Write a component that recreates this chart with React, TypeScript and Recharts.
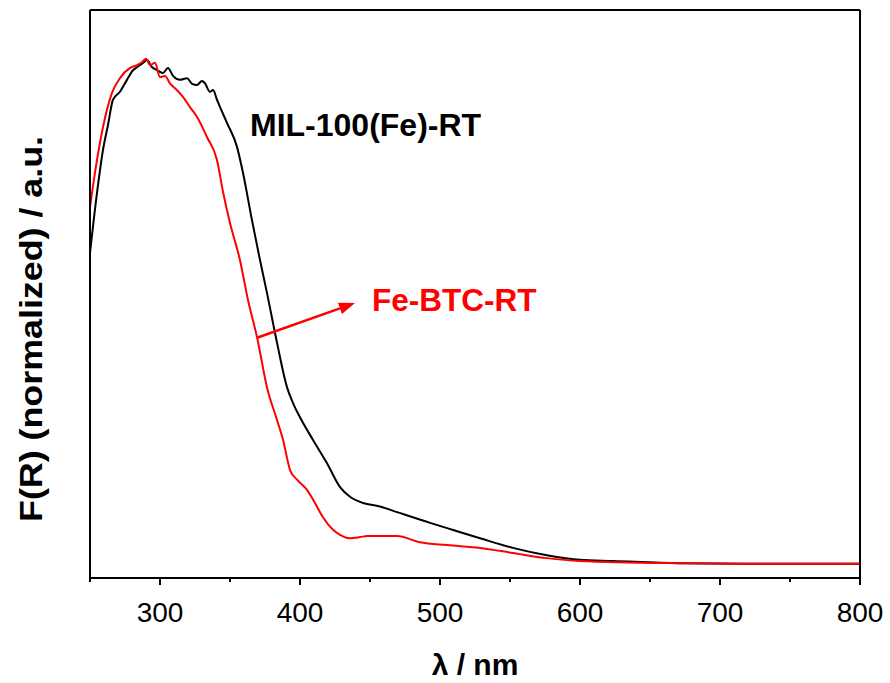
import { LineChart, Line, XAxis, YAxis, ReferenceLine } from 'recharts';

// MIL-100(Fe)-RT (black)
const milWavelength = [250, 255, 259.3, 262.9, 266.4, 271.4, 276.4, 280.7, 284, 287.9, 290.7, 294, 297.9, 302.1, 305.7, 309.3, 314.3, 319.3, 322.9, 326.4, 330, 332.1, 335.7, 337.9, 340.7, 342.9, 347.9, 355, 359.3, 365.7, 371.4, 376.4, 383.6, 390.7, 395, 400, 409.3, 419.3, 428.6, 435.7, 445, 457, 469.3, 492.9, 510, 528.6, 552.1, 576.4, 600, 623.6, 671.4, 730, 800];
const milIntensity = [57.2, 67.8, 75.4, 79.8, 84.2, 85.6, 87.7, 89.4, 90.0, 90.7, 91.2, 90.0, 89.4, 88.9, 89.8, 88.4, 87.7, 88.0, 87.0, 86.8, 87.5, 87.1, 85.6, 85.9, 84.2, 82.9, 80.1, 75.9, 71.3, 63.0, 56.0, 50.2, 41.4, 33.6, 30.8, 28.3, 24.3, 20.2, 16.0, 14.3, 13.2, 12.6, 11.6, 9.7, 8.4, 7.0, 5.3, 4.0, 3.2, 3.0, 2.6, 2.5, 2.5];

// Fe-BTC-RT (red)
const btcWavelength = [250, 255, 259.3, 265.7, 271.4, 278.6, 283.6, 287.1, 290, 292.9, 296.4, 300, 303.6, 307.1, 312.1, 316.4, 321.4, 326.4, 333.6, 340.7, 345, 350, 357.1, 362.9, 369.3, 376.4, 383.6, 387.9, 392.9, 397.9, 405, 410.7, 416.4, 423.6, 428.6, 435.7, 442.9, 447.9, 469.3, 485.7, 505, 528.6, 552.1, 576.4, 600, 671.4, 730, 800];
const btcIntensity = [65.3, 73.6, 79.4, 85.4, 88.0, 89.8, 90.3, 90.8, 91.4, 90.3, 90.7, 88.2, 88.4, 87.1, 85.9, 84.7, 82.9, 81.2, 77.6, 73.6, 68.0, 62.5, 56.0, 48.9, 42.4, 33.6, 27.8, 24.3, 19.0, 17.3, 15.5, 13.2, 10.7, 8.5, 7.6, 7.0, 7.2, 7.4, 7.4, 6.3, 5.8, 5.3, 4.4, 3.5, 3.0, 2.6, 2.5, 2.5];

const xTicks = [250, 300, 350, 400, 450, 500, 550, 600, 650, 700, 750, 800];

const milData = milWavelength.map((x, i) => ({ x, y: milIntensity[i] }));
const btcData = btcWavelength.map((x, i) => ({ x, y: btcIntensity[i] }));

const FONT = 'Arial, "Liberation Sans", sans-serif';

function BottomTick({ x, y, payload }: { x: number; y: number; payload: { value: number } }) {
  const major = payload.value % 100 === 0;
  return (
    <g>
      <line x1={x} y1={y} x2={x} y2={y + (major ? 7 : 4)} stroke="#000" strokeWidth={2} />
      {major && (
        <text x={x} y={y + 44} textAnchor="middle" fontSize={28} fontFamily={FONT} fill="#000">
          {payload.value}
        </text>
      )}
    </g>
  );
}

function TopTick({ x, y, payload }: { x: number; y: number; payload: { value: number } }) {
  const major = payload.value % 100 === 0;
  return <line x1={x} y1={y} x2={x} y2={y - (major ? 7 : 4)} stroke="#000" strokeWidth={2} />;
}

function Arrow(props: { x1?: number; y1?: number; x2?: number; y2?: number }) {
  const { x1 = 0, y1 = 0, x2 = 0, y2 = 0 } = props;
  const a = Math.atan2(y2 - y1, x2 - x1);
  const len = 16;
  const w = 6;
  const bx = x2 - len * Math.cos(a);
  const by = y2 - len * Math.sin(a);
  const px = -Math.sin(a) * w;
  const py = Math.cos(a) * w;
  return (
    <g>
      <line x1={x1} y1={y1} x2={bx} y2={by} stroke="#ff0000" strokeWidth={2.5} />
      <polygon points={`${x2},${y2} ${bx + px},${by + py} ${bx - px},${by - py}`} fill="#ff0000" />
    </g>
  );
}

export default function App() {
  return (
    <div style={{ position: 'absolute', left: 0, top: 0, width: 890, height: 683, background: '#fff' }}>
      <LineChart width={890} height={683} margin={{ top: 9, right: 29, bottom: 0, left: 89 }}>
        <XAxis
          xAxisId="b"
          type="number"
          dataKey="x"
          domain={[250, 800]}
          ticks={xTicks}
          interval={0}
          height={105}
          tickSize={0}
          tickMargin={0}
          tickLine={false}
          tick={BottomTick}
          axisLine={{ stroke: '#000', strokeWidth: 2 }}
        />
        <XAxis
          xAxisId="t"
          orientation="top"
          type="number"
          dataKey="x"
          domain={[250, 800]}
          ticks={xTicks}
          interval={0}
          height={1}
          tickSize={0}
          tickMargin={0}
          tickLine={false}
          tick={TopTick}
          axisLine={{ stroke: '#000', strokeWidth: 2 }}
        />
        <YAxis
          yAxisId="l"
          type="number"
          domain={[0, 100]}
          width={1}
          tick={false}
          tickLine={false}
          axisLine={{ stroke: '#000', strokeWidth: 2 }}
        />
        <YAxis
          yAxisId="r"
          orientation="right"
          type="number"
          domain={[0, 100]}
          width={1}
          tick={false}
          tickLine={false}
          axisLine={{ stroke: '#000', strokeWidth: 2 }}
        />
        <Line
          xAxisId="b"
          yAxisId="l"
          data={milData}
          dataKey="y"
          type="monotone"
          stroke="#000000"
          strokeWidth={2}
          dot={false}
          isAnimationActive={false}
        />
        <Line
          xAxisId="b"
          yAxisId="l"
          data={btcData}
          dataKey="y"
          type="monotone"
          stroke="#ff0000"
          strokeWidth={2}
          dot={false}
          isAnimationActive={false}
        />
        <ReferenceLine
          xAxisId="b"
          yAxisId="l"
          segment={[{ x: 369.3, y: 42.3 }, { x: 439.3, y: 48.4 }]}
          shape={Arrow}
        />
      </LineChart>
      <svg width={890} height={683} style={{ position: 'absolute', left: 0, top: 0, pointerEvents: 'none' }}>
        <text x={250} y={136} fontSize={32} fontWeight="bold" fontFamily={FONT} fill="#000">
          MIL-100(Fe)-RT
        </text>
        <text x={372} y={311} fontSize={31.5} fontWeight="bold" fontFamily={FONT} fill="#ff0000">
          Fe-BTC-RT
        </text>
        <text x={475} y={675} textAnchor="middle" fontSize={30} fontWeight="bold" fontFamily={FONT} fill="#000">
          λ / nm
        </text>
        <text
          x={0}
          y={0}
          transform="translate(42,329) rotate(-90)"
          textAnchor="middle"
          fontSize={32}
          fontWeight="bold"
          fontFamily={FONT}
          fill="#000"
          textLength={386}
          lengthAdjust="spacingAndGlyphs"
        >
          F(R) (normalized) / a.u.
        </text>
      </svg>
    </div>
  );
}
